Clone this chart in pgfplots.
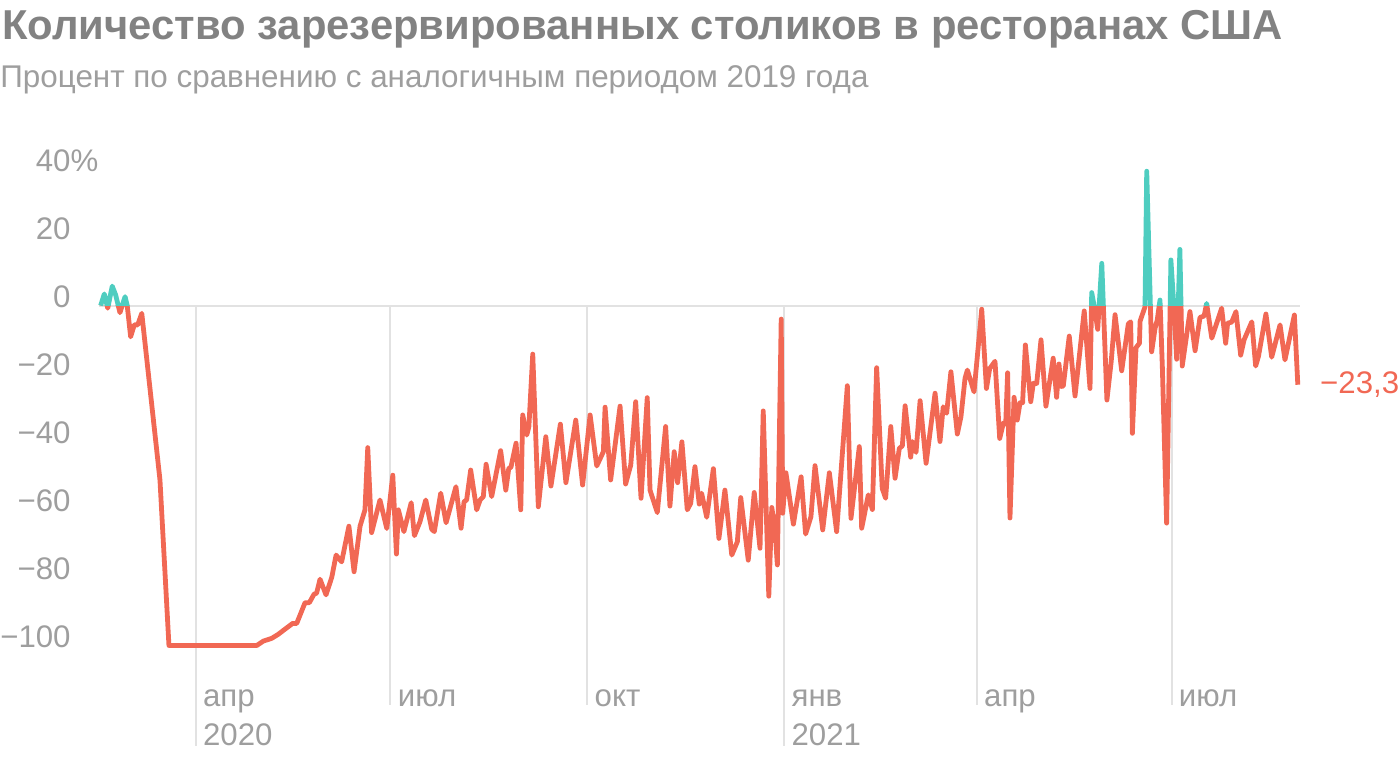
\documentclass[border=0pt]{standalone}
\usepackage{fontspec}
\setmainfont{Liberation Sans}
\usepackage{pgfplots}
\usepackage{pgfplotstable}
\pgfplotsset{compat=1.18}
\definecolor{linered}{RGB}{241,104,84}
\definecolor{lineteal}{RGB}{78,205,192}
\definecolor{titlegray}{RGB}{130,130,130}
\definecolor{labelgray}{RGB}{158,158,158}
\definecolor{gridgray}{RGB}{226,226,226}

\pgfplotstableread{
d v
-44.4 0
-42.7 3.4
-41.1 -0.8
-39.0 5.7
-37.4 3.1
-35.4 -2.1
-33.0 2.6
-32.0 0
-30.4 -9.2
-28.7 -5.7
-27.1 -5.7
-25.2 -2.3
-16.7 -51.3
-12.5 -100
28.5 -100
31.6 -98.7
35.5 -97.9
38.6 -96.7
41.7 -95.2
45.3 -93.5
47.2 -93.5
51.1 -87.4
53.1 -87.4
55.3 -84.9
56.5 -84.6
58.1 -80.5
60.9 -85.1
63.6 -79.9
65.6 -73.4
68.2 -75.4
71.6 -64.9
74.0 -78.3
76.8 -64.9
79.1 -60.1
80.4 -41.8
82.2 -66.8
86.1 -57.2
89.3 -65.6
92.1 -49.9
93.8 -73.1
94.7 -60.1
97.3 -66.5
100.7 -58.0
102.2 -67.7
104.8 -63.6
107.5 -57.2
110.3 -65.8
111.5 -66.5
114.5 -55.2
117.0 -63.9
121.6 -53.3
124.0 -65.5
125.4 -57.7
126.6 -57.2
128.5 -48.4
131.3 -60.1
132.9 -57.2
134.4 -56.2
135.7 -46.7
138.3 -56.2
142.5 -42.7
144.9 -54.3
146.3 -47.9
147.3 -47.6
149.7 -40.5
151.9 -60.1
152.8 -32.2
154.7 -38.1
155.7 -35.6
157.5 -14.3
160.1 -59.2
163.6 -38.6
166.0 -53.1
170.4 -34.9
173.0 -52.1
177.6 -33.7
180.8 -52.8
184.3 -32.2
187.4 -47.2
190.5 -43.0
191.3 -29.9
193.9 -51.3
198.3 -29.6
200.9 -52.5
203.3 -46.9
205.6 -28.3
208.1 -56.7
211.0 -27.1
212.3 -54.3
215.7 -60.9
219.6 -35.6
221.6 -59.0
223.6 -43.0
225.2 -52.1
227.2 -40.1
229.7 -60.1
231.3 -58.2
233.3 -47.4
235.3 -58.4
236.4 -55.2
238.8 -62.3
241.9 -48.0
244.5 -68.5
247.3 -54.3
250.5 -73.4
253.1 -69.5
254.7 -56.5
258.2 -74.9
261.0 -55.0
263.7 -71.4
265.2 -31.0
267.8 -85.5
269.2 -59.4
270.7 -65.8
271.8 -76.3
273.6 -4.0
274.3 -61.1
275.8 -49.2
279.3 -64.3
282.9 -50.4
285.0 -67.2
287.5 -62.1
289.4 -47.1
293.0 -66.0
296.1 -49.2
299.5 -66.5
304.5 -23.6
306.2 -62.6
310.1 -41.5
311.2 -65.5
314.3 -55.7
316.2 -60.0
318.2 -18.3
320.8 -53.8
322.4 -56.7
324.8 -35.6
326.8 -50.8
328.8 -42.0
330.2 -41.3
331.5 -29.5
334.1 -44.6
334.9 -40.0
336.6 -43.2
338.5 -28.0
341.3 -46.4
345.5 -25.8
347.8 -40.0
349.3 -29.8
350.9 -31.7
352.9 -19.5
355.9 -37.8
357.6 -32.7
359.5 -21.4
360.6 -19.0
363.7 -25.4
367.3 -1.1
369.5 -24.4
371.0 -18.6
373.5 -16.4
375.7 -39.1
377.4 -34.6
378.5 -34.9
379.4 -19.8
380.5 -62.5
382.4 -27.0
383.9 -33.7
385.2 -28.6
386.4 -28.6
387.7 -11.6
390.2 -28.3
391.4 -22.9
393.0 -22.9
395.0 -10.1
397.3 -29.6
400.7 -15.5
402.3 -27.0
403.4 -17.2
404.3 -23.8
405.4 -23.7
408.2 -9.0
410.9 -26.6
415.2 -1.6
417.9 -24.4
418.7 3.8
419.8 0
421.5 -7.0
423.4 12.4
425.8 -27.8
427.8 -16.5
429.6 -2.7
432.7 -19.2
435.8 -5.4
436.9 -4.8
437.7 -37.6
439.4 -12.4
441.0 -11.1
441.3 -4.6
443.6 -0.4
444.4 39.5
446.7 -13.6
448.3 -6.7
449.3 -4.3
450.6 1.6
451.7 -18.0
453.7 -64.0
455.7 13.4
457.1 -0.4
458.4 -15.8
459.9 16.5
461.0 -17.8
464.6 -1.8
467.0 -13.3
469.3 -3.5
471.2 -3.1
472.4 0.6
474.8 -9.6
479.4 -0.8
481.3 -11.1
482.2 -5.2
484.1 -4.9
486.1 -1.8
488.3 -14.6
489.9 -10.1
493.5 -4.8
495.3 -17.8
496.6 -15.0
500.1 -2.5
502.8 -15.2
506.7 -5.7
509.0 -16.0
513.4 -2.8
515.0 -23.3
}\data

\begin{document}
\begin{tikzpicture}
\path[use as bounding box] (-49.7pt,-46.75pt) rectangle (650.3pt,331.25pt);
\begin{axis}[
  at={(0pt,0pt)}, anchor=south west,
  scale only axis, width=600.27pt, height=249.9pt,
  xmin=-45, xmax=516, ymin=-105, ymax=42,
  axis line style={draw=none},
  major tick length=0pt,
  xtick pos=bottom, ytick pos=left,
  xtick={0,91,183,275,365,456},
  xticklabels={апр,июл,окт,янв,апр,июл},
  extra x ticks={0,275},
  extra x tick labels={2020,2021},
  extra x tick style={xticklabel style={yshift=-19.5pt}},
  xticklabel style={anchor=base west, inner sep=0pt, xshift=3.5pt, yshift=-21.75pt,
     font=\fontsize{15.6}{18}\selectfont, text=labelgray},
  ytick={-100,-80,-60,-40,-20,0,20,40},
  yticklabels={−100,−80,−60,−40,−20,0,20,40\rlap{\%}},
  yticklabel style={anchor=base east, inner sep=0pt, xshift=-14.2pt, yshift=-0.75pt,
     font=\fontsize{15.6}{18}\selectfont, text=labelgray},
  clip=false,
]
\draw[gridgray, line width=1pt] (axis cs:0,0) -- (axis cs:0,-129.6);
\draw[gridgray, line width=1pt] (axis cs:275,0) -- (axis cs:275,-129.6);
\draw[gridgray, line width=1pt] (axis cs:91,0) -- (axis cs:91,-117.5);
\draw[gridgray, line width=1pt] (axis cs:183,0) -- (axis cs:183,-117.5);
\draw[gridgray, line width=1pt] (axis cs:365,0) -- (axis cs:365,-117.5);
\draw[gridgray, line width=1pt] (axis cs:456,0) -- (axis cs:456,-117.5);
\draw[gridgray, line width=1pt] (axis cs:-45,0) -- (axis cs:516,0);
\begin{scope}
\clip (axis cs:-60,0) rectangle (axis cs:530,-140);
\addplot[linered, line width=2.4pt, line join=round, no marks] table[x=d,y=v] {\data};
\end{scope}
\begin{scope}
\clip (axis cs:-60,0) rectangle (axis cs:530,60);
\addplot[lineteal, line width=2.4pt, line join=round, no marks] table[x=d,y=v] {\data};
\end{scope}
\node[anchor=base west, inner sep=0pt, xshift=11pt, yshift=-4.3pt, text=linered,
  font=\fontsize{15.6}{18}\selectfont] at (axis cs:515,-23.3) {−23,3};
\end{axis}
\node[anchor=base west, inner sep=0pt, text=titlegray, font=\fontsize{20.9}{24}\selectfont\bfseries]
  at (-48.7pt,311.25pt) {Количество зарезервированных столиков в ресторанах США};
\node[anchor=base west, inner sep=0pt, text=labelgray, font=\fontsize{15.7}{18}\selectfont]
  at (-49.7pt,287.25pt) {Процент по сравнению с аналогичным периодом 2019 года};
\end{tikzpicture}
\end{document}
